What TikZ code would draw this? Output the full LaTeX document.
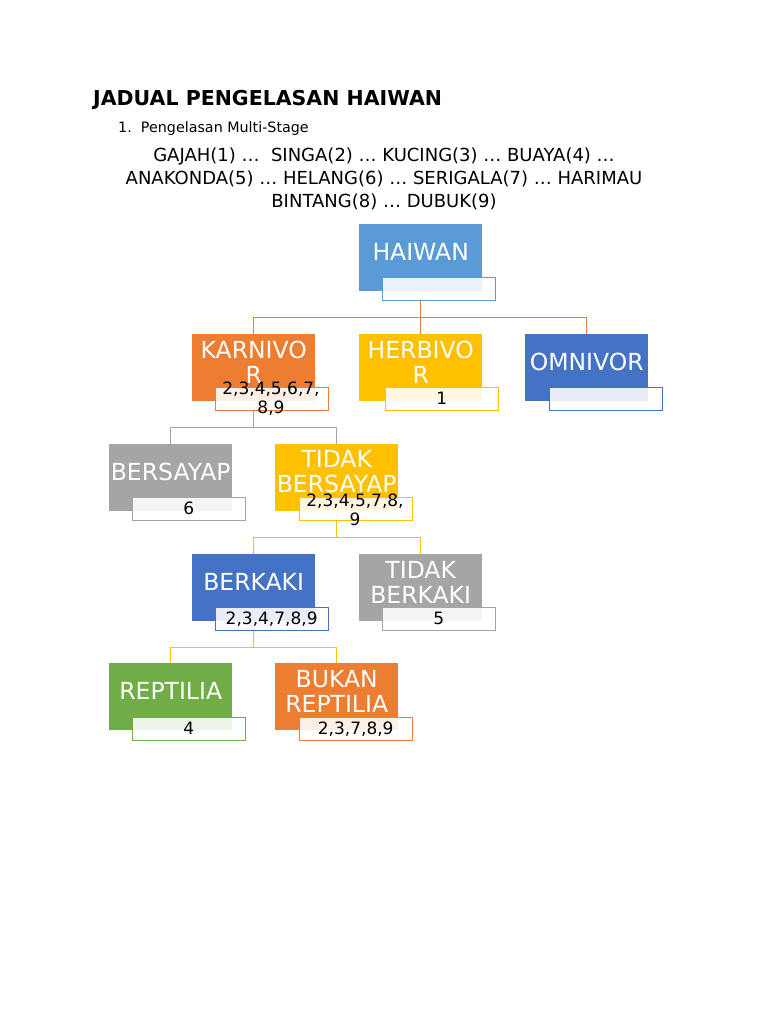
\documentclass[tikz,border=0pt]{standalone}
\usepackage{fontspec}
\setmainfont{DejaVu Sans}
\definecolor{cblue}{HTML}{5B9BD5}
\definecolor{corange}{HTML}{ED7D31}
\definecolor{cgold}{HTML}{FFC000}
\definecolor{cdblue}{HTML}{4472C4}
\definecolor{cgray}{HTML}{A5A5A5}
\definecolor{cgreen}{HTML}{70AD47}
\tikzset{
 mainbox/.style={fill=#1,minimum width=123pt,minimum height=67pt,anchor=north west,inner sep=0pt},
 boxtext/.style={anchor=center,text=white,font=\fontsize{23.5}{25}\selectfont,align=center,text width=123pt,inner sep=0pt},
 subbox/.style={draw=#1,fill=white,fill opacity=0.88,minimum width=113pt,minimum height=23pt,anchor=north west,inner sep=0pt},
 subtext/.style={font=\fontsize{17}{19}\selectfont,align=center,text width=110pt,inner sep=0pt},
 conn/.style={draw=#1,line width=0.8pt}
}
\begin{document}
\begin{tikzpicture}[x=1pt,y=-1pt]
\useasboundingbox (0,0) rectangle (768,1024);
\fill[white] (0,0) rectangle (768,1024);
\node[anchor=west,inner sep=0pt,font=\bfseries\fontsize{20.5}{24}\selectfont] (title) at (93,100) {JADUAL PENGELASAN HAIWAN};
\node[anchor=west,inner sep=0pt,font=\fontsize{14.3}{16}\selectfont] (sub) at (118,129) {1.\ \ Pengelasan Multi-Stage};
\node[align=center,inner sep=0pt,font=\fontsize{18}{23}\selectfont] (list) at (384,179) {GAJAH(1) \dots\ \ SINGA(2) \dots\ KUCING(3) \dots\ BUAYA(4) \dots\\ANAKONDA(5) \dots\ HELANG(6) \dots\ SERIGALA(7) \dots\ HARIMAU\\BINTANG(8) \dots\ DUBUK(9)};
% connectors
\coordinate (h1) at (420,317);
\draw[conn=corange] (420,300) -- (h1) (253,334) |- (586,317) -- (586,334) (420,317) -- (420,334);
\draw[conn=cgray] (253,401) -- (253,427) (170,444) |- (336,427) -- (336,444);
\draw[conn=cgold] (336,511) -- (336,537) (253,554) |- (420,537) -- (420,554);
\draw[conn=cgold] (253,621) -- (253,647) (170,663) |- (336,647) -- (336,663);
% boxes
\newcommand{\bx}[8]{%
 \node[mainbox=#4] (#1) at (#2,#3) {};
 \node[boxtext] at ([yshift=-28pt]#1.north) {#5};
 \node[subbox=#4] (#1s) at (#6,#7) {};
 \node[subtext] at (#1s) {#8};}
\bx{haiwan}{359}{224}{cblue}{HAIWAN}{382}{277}{}
\bx{karn}{192}{334}{corange}{KARNIVO\\R}{215}{387}{}
\node[subtext] at (271,399) {2,3,4,5,6,7,\\8,9};
\bx{herb}{359}{334}{cgold}{HERBIVO\\R}{385}{387}{1}
\bx{omni}{525}{334}{cdblue}{OMNIVOR}{549}{387}{}
\bx{bers}{109}{444}{cgray}{BERSAYAP}{132}{497}{6}
\bx{tbers}{275}{444}{cgold}{TIDAK\\BERSAYAP}{299}{497}{}
\node[subtext] at (355,510) {2,3,4,5,7,8,\\9};
\bx{berk}{192}{554}{cdblue}{BERKAKI}{215}{607}{2,3,4,7,8,9}
\bx{tberk}{359}{554}{cgray}{TIDAK\\BERKAKI}{382}{607}{5}
\bx{rept}{109}{663}{cgreen}{REPTILIA}{132}{717}{4}
\bx{brept}{275}{663}{corange}{BUKAN\\REPTILIA}{299}{717}{2,3,7,8,9}
\end{tikzpicture}
\end{document}
